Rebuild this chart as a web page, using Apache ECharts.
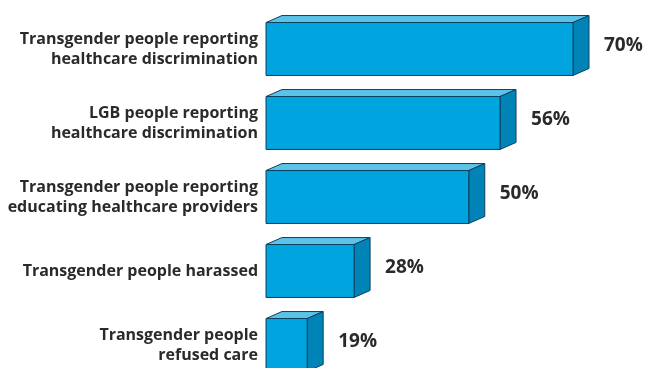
<!DOCTYPE html>
<html>
<head>
<meta charset="utf-8">
<script src="https://cdn.jsdelivr.net/npm/echarts@6/dist/echarts.min.js"></script>
<style>html,body{margin:0;padding:0;background:#fff}#c{width:645px;height:368px}</style>
</head>
<body>
<div id="c"></div>
<script>
var categories = [
  "Transgender people reporting\nhealthcare discrimination",
  "LGB people reporting\nhealthcare discrimination",
  "Transgender people reporting\neducating healthcare providers",
  "Transgender people harassed",
  "Transgender people\nrefused care"
];
var values = [70, 56, 50, 28, 19];
var valueLabels = ["70%", "56%", "50%", "28%", "19%"];

var chart = echarts.init(document.getElementById('c'), null, {renderer: 'canvas'});
var X_MIN = 11.1;
var DX = 16, DY = 7;
function renderItem(params, api) {
  var idx = api.value(1);
  var v = api.value(0);
  var start = api.coord([X_MIN, idx]);
  var end = api.coord([v, idx]);
  var band = api.size([0, 1])[1];
  var h = band * 0.715;
  var x0 = start[0], x1 = end[0];
  var yT = start[1] - h / 2, yB = start[1] + h / 2;
  var stroke = '#0f3f5e';
  return {
    type: 'group',
    children: [
      {type: 'polygon', shape: {points: [[x0, yT], [x0 + DX, yT - DY], [x1 + DX, yT - DY], [x1, yT]]},
        style: {fill: '#5bc2e8', stroke: stroke, lineWidth: 1}},
      {type: 'polygon', shape: {points: [[x1, yT], [x1 + DX, yT - DY], [x1 + DX, yB - DY], [x1, yB]]},
        style: {fill: '#0083b6', stroke: stroke, lineWidth: 1}},
      {type: 'rect', shape: {x: x0, y: yT, width: x1 - x0, height: h},
        style: {fill: '#00a5e0', stroke: stroke, lineWidth: 1}},
      {type: 'text', style: {text: valueLabels[idx], x: x1 + DX + 15, y: start[1] - 3,
        textAlign: 'left', textVerticalAlign: 'middle', fill: '#2b2a29',
        font: 'bold 19px "Open Sans", sans-serif'}}
    ]
  };
}
chart.setOption({
  animation: false,
  grid: {left: 266, right: 72, top: 12, height: 370, containLabel: false, outerBoundsMode: 'none'},
  xAxis: {type: 'value', min: X_MIN, max: 70, show: false},
  yAxis: {
    type: 'category', inverse: true, data: categories,
    axisLine: {show: false}, axisTick: {show: false}, splitLine: {show: false},
    axisLabel: {margin: 8, fontSize: 16, fontWeight: 'bold', fontFamily: '"Open Sans", sans-serif',
      color: '#2b2a29', lineHeight: 20, align: 'right'}
  },
  series: [{
    type: 'custom', renderItem: renderItem, clip: false,
    encode: {x: 0, y: 1},
    data: values.map(function (v, i) { return [v, i]; })
  }]
});
</script>
</body>
</html>
